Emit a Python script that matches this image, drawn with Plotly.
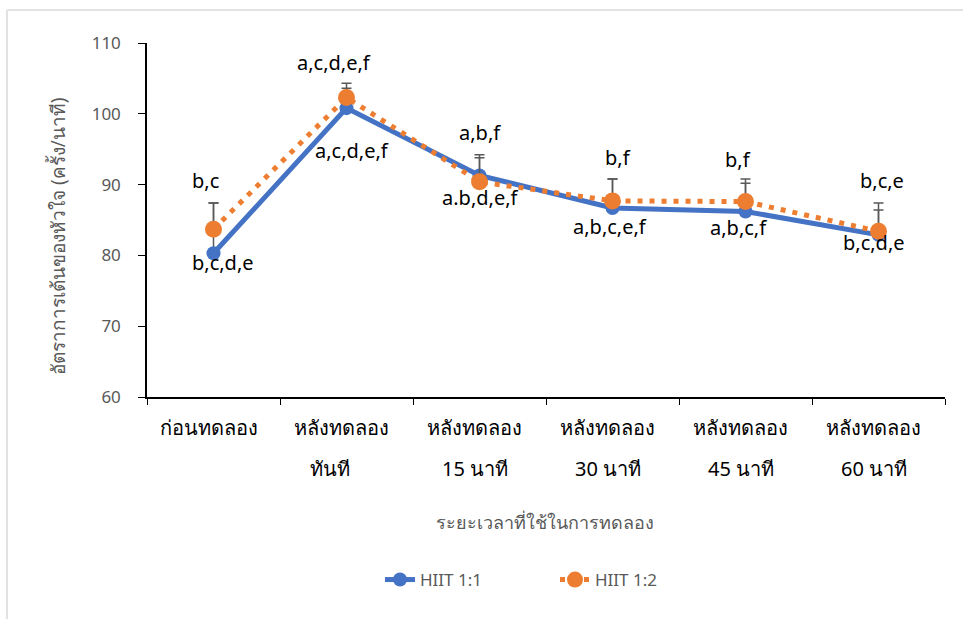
import plotly.graph_objects as go

# Heart-rate measurements across the test period
tick_line1 = ["ก่อนทดลอง", "หลังทดลอง", "หลังทดลอง", "หลังทดลอง", "หลังทดลอง", "หลังทดลอง"]
tick_line2 = ["", "ทันที", "15 นาที", "30 นาที", "45 นาที", "60 นาที"]
categories = [a + " " + b if b else a for a, b in zip(tick_line1, tick_line2)]

hiit_11 = [80.3, 100.8, 91.3, 86.7, 86.2, 82.9]
hiit_11_err = [7.1, 2.8, 2.9, 4.1, 4.0, 3.5]
hiit_12 = [83.7, 102.3, 90.4, 87.7, 87.6, 83.4]
hiit_12_err = [3.7, 2.0, 3.4, 3.1, 3.2, 4.0]
labels_11 = ["b,c,d,e", "a,c,d,e,f", "a.b,d,e,f", "a,b,c,e,f", "a,b,c,f", "b,c,d,e"]
labels_12 = ["b,c", "a,c,d,e,f", "a,b,f", "b,f", "b,f", "b,c,e"]

FONT = "Noto Sans, sans-serif"
GREY = "#595959"
BLUE = "#4472C4"
ORANGE = "#ED7D31"

# plot-area geometry in pixels
W, H = 963, 619
L, R, T, B = 147, 18, 43, 222
PW, PH = W - L - R, H - T - B


def px_x(p):
    return (p - L) / PW


def px_y(p):
    return (H - B - p) / PH


fig = go.Figure()

fig.add_trace(go.Scatter(
    x=categories, y=hiit_11, name="HIIT 1:1", mode="lines+markers",
    line=dict(color=BLUE, width=5),
    marker=dict(color=BLUE, size=14),
    error_y=dict(type="data", array=hiit_11_err, symmetric=False,
                 arrayminus=[0] * len(hiit_11), color=GREY, thickness=1.5, width=5),
))
fig.add_trace(go.Scatter(
    x=categories, y=hiit_12, name="HIIT 1:2", mode="lines+markers",
    line=dict(color=ORANGE, width=5, dash="5px,7px"),
    marker=dict(color=ORANGE, size=17),
    error_y=dict(type="data", array=hiit_12_err, symmetric=False,
                 arrayminus=[0] * len(hiit_12), color=GREY, thickness=1.5, width=5),
))

# significance letters: HIIT 1:2 above its point, HIIT 1:1 below its point (pixel offsets)
above_off = [(-8, 49), (-13, 35), (0, 49), (5, 43), (-8, 42), (3, 51)]
below_off = [(9, -9), (5, -42), (1, -22), (-3, -19), (-7, -16), (-5, -8)]
for i, c in enumerate(categories):
    dx, dy = above_off[i]
    fig.add_annotation(x=c, y=hiit_12[i], text=labels_12[i], showarrow=False,
                       xshift=dx, yshift=dy, font=dict(size=20, color="#000000"))
    dx, dy = below_off[i]
    fig.add_annotation(x=c, y=hiit_11[i], text=labels_11[i], showarrow=False,
                       xshift=dx, yshift=dy, font=dict(size=20, color="#000000"))

# two-line category labels under the axis
line2_shift = [0, -17, -5, -5, -5, -5]
for i, c in enumerate(categories):
    fig.add_annotation(x=c, xref="x", yref="paper", y=px_y(428), yanchor="middle",
                       xshift=-5, text=tick_line1[i], showarrow=False,
                       font=dict(size=20, color="#000000"))
    if tick_line2[i]:
        fig.add_annotation(x=c, xref="x", yref="paper", y=px_y(468), yanchor="middle",
                           xshift=line2_shift[i], text=tick_line2[i], showarrow=False,
                           font=dict(size=20, color="#000000"))

# axis titles
fig.add_annotation(xref="paper", yref="paper", x=px_x(545), y=px_y(522),
                   xanchor="center", yanchor="middle", showarrow=False,
                   text="ระยะเวลาที่ใช้ในการทดลอง", font=dict(size=18, color=GREY))
fig.add_annotation(xref="paper", yref="paper", x=px_x(58), y=px_y(237),
                   xanchor="center", yanchor="middle", showarrow=False, textangle=-90,
                   text="อัตราการเต้นของหัวใจ (ครั้ง/นาที)", font=dict(size=19, color=GREY))

# outer frame lines
fig.add_shape(type="line", xref="paper", yref="paper",
              x0=px_x(7), x1=px_x(W + 5), y0=px_y(10), y1=px_y(10),
              line=dict(color="#E2E2E2", width=2))
fig.add_shape(type="line", xref="paper", yref="paper",
              x0=px_x(7), x1=px_x(7), y0=px_y(10), y1=px_y(H + 5),
              line=dict(color="#E2E2E2", width=2))

fig.update_layout(
    width=W, height=H,
    margin=dict(l=L, r=R, t=T, b=B),
    paper_bgcolor="white", plot_bgcolor="white",
    font=dict(family=FONT, color=GREY, size=17),
    showlegend=True,
    legend=dict(orientation="h", x=px_x(380), xanchor="left", y=px_y(580), yanchor="middle",
                entrywidth=130, font=dict(size=17, color=GREY)),
    xaxis=dict(
        range=[-0.5, len(categories) - 0.5], automargin=False,
        showline=True, linecolor="#000000", linewidth=1.5,
        ticks="outside", ticklen=6, tickcolor="#000000", tickson="boundaries",
        showgrid=False, showticklabels=False,
    ),
    yaxis=dict(
        range=[60, 110], dtick=10, automargin=False,
        showline=True, linecolor="#000000", linewidth=1.5,
        ticks="outside", ticklen=7, tickcolor="#000000", showgrid=False, zeroline=False,
        tickfont=dict(size=17, color=GREY), ticklabelstandoff=14,
    ),
)

fig.write_html("out.html")
